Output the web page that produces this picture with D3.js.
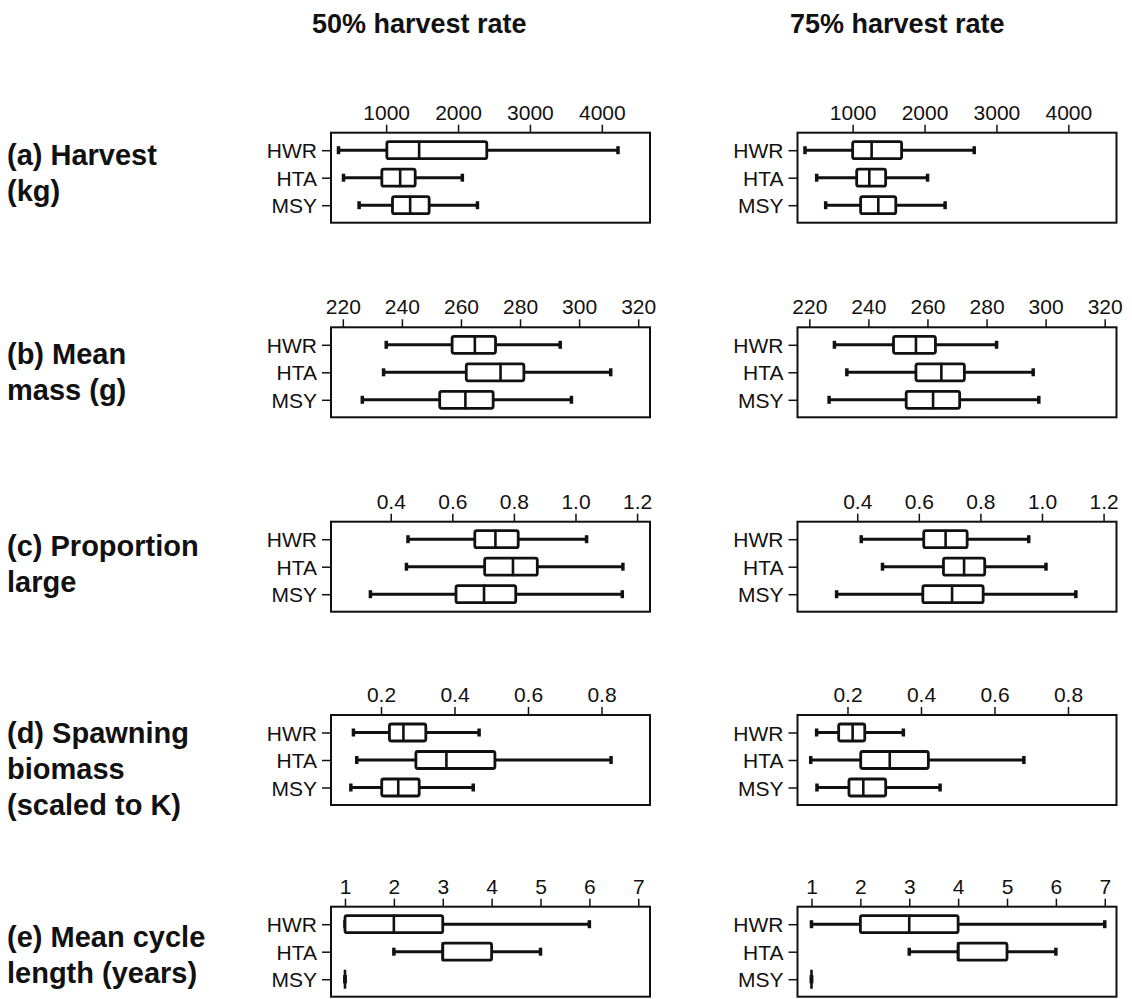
<!DOCTYPE html>
<html>
<head>
<meta charset="utf-8">
<title>Harvest rate box plots</title>
<script src="https://cdn.jsdelivr.net/npm/d3@7/dist/d3.min.js"></script>
<style>
  body { margin: 0; background: #fff; }
  svg { display: block; font-family: "Liberation Sans", Arial, sans-serif; }
  .tick text { fill: #111; }
</style>
</head>
<body>
<div id="chart"></div>
<script>
// groups and labels
var groups = ["HWR", "HTA", "MSY"];
var rateTitles = ["50% harvest rate", "75% harvest rate"];
var panelLabels = [
  ["(a) Harvest", "(kg)"],
  ["(b) Mean", "mass (g)"],
  ["(c) Proportion", "large"],
  ["(d) Spawning", "biomass", "(scaled to K)"],
  ["(e) Mean cycle", "length (years)"]
];

// axis ranges and tick labels
var harvestDomain = [233, 4670], harvestTicks = [1000, 2000, 3000, 4000];
var massDomain = [216, 324], massTicks = [220, 240, 260, 280, 300, 320];
var largeDomain = [0.206, 1.242], largeTicks = [0.4, 0.6, 0.8, 1.0, 1.2];
var biomassDomain = [0.064, 0.932], biomassTicks = [0.2, 0.4, 0.6, 0.8];
var cycleDomain = [0.714, 7.24], cycleTicks = [1, 2, 3, 4, 5, 6, 7];

// [min, q1, median, q3, max] for HWR, HTA, MSY
var harvest50 = [[337, 1010, 1459, 2400, 4225], [407, 940, 1195, 1404, 2060], [624, 1088, 1334, 1598, 2270]];
var harvest75 = [[337, 1000, 1264, 1681, 2691], [500, 1056, 1232, 1459, 2042], [625, 1111, 1357, 1600, 2286]];
var mass50 = [[234.7, 257, 264.7, 271.7, 293.6], [233.8, 261.8, 273.4, 281.3, 310.7], [226.6, 252.8, 261.5, 270.9, 297.4]];
var mass75 = [[228.5, 248.5, 256.1, 262.7, 283.4], [232.7, 256.1, 264.7, 272.5, 295.8], [226.7, 252.8, 261.9, 270.9, 297.7]];
var large50 = [[0.456, 0.673, 0.740, 0.814, 1.036], [0.451, 0.705, 0.797, 0.876, 1.154], [0.334, 0.612, 0.703, 0.806, 1.152]];
var large75 = [[0.413, 0.616, 0.687, 0.757, 0.957], [0.482, 0.680, 0.747, 0.814, 1.013], [0.333, 0.613, 0.708, 0.809, 1.110]];
var biomass50 = [[0.125, 0.223, 0.261, 0.322, 0.467], [0.134, 0.295, 0.378, 0.510, 0.826], [0.118, 0.202, 0.247, 0.304, 0.451]];
var biomass75 = [[0.116, 0.176, 0.214, 0.247, 0.352], [0.100, 0.236, 0.315, 0.420, 0.680], [0.117, 0.204, 0.243, 0.304, 0.452]];
var cycle50 = [[1, 1, 2, 3, 6], [2, 3, 3, 4, 5], [1, 1, 1, 1, 1]];
var cycle75 = [[1, 2, 3, 4, 7], [3, 4, 4, 5, 6], [1, 1, 1, 1, 1]];

var panels = [
  { domain: harvestDomain, ticks: harvestTicks, fmt: d3.format("d"), data: [harvest50, harvest75] },
  { domain: massDomain, ticks: massTicks, fmt: d3.format("d"), data: [mass50, mass75] },
  { domain: largeDomain, ticks: largeTicks, fmt: d3.format(".1f"), data: [large50, large75] },
  { domain: biomassDomain, ticks: biomassTicks, fmt: d3.format(".1f"), data: [biomass50, biomass75] },
  { domain: cycleDomain, ticks: cycleTicks, fmt: d3.format("d"), data: [cycle50, cycle75] }
];

// layout
var W = 1132, H = 999;
var panelTops = [132.7, 327.3, 521.7, 715, 906.7];
var labelY = [165, 364, 556, 743, 947];
var colLeft = [331, 797.5];
var titleX = [312, 790];
var pw = 319, ph = 90, boxH = 17, capH = 8;

var svg = d3.select("#chart").append("svg").attr("width", W).attr("height", H);

// column titles
svg.selectAll(".coltitle").data(rateTitles).enter().append("text")
  .attr("x", function (d, i) { return titleX[i]; })
  .attr("y", 33)
  .style("font-size", "27px").style("font-weight", "bold").style("fill", "#111")
  .text(function (d) { return d; });

panels.forEach(function (p, r) {
  var top = panelTops[r];

  // row label on the left
  var lab = svg.append("text")
    .attr("x", 7).attr("y", labelY[r])
    .style("font-size", "29px").style("font-weight", "bold").style("fill", "#111");
  panelLabels[r].forEach(function (line, k) {
    lab.append("tspan").attr("x", 7).attr("y", labelY[r] + k * 36).text(line);
  });

  p.data.forEach(function (stats, c) {
    var left = colLeft[c];
    var x = d3.scaleLinear().domain(p.domain).range([left, left + pw]);
    var y = d3.scalePoint().domain(groups).range([top + 17.5, top + 72.5]);

    var g = svg.append("g");

    // top axis
    var ax = g.append("g").attr("transform", "translate(0," + top + ")")
      .call(d3.axisTop(x).tickValues(p.ticks).tickSize(8).tickPadding(5).tickFormat(p.fmt));
    ax.select(".domain").remove();
    ax.selectAll("line").attr("stroke", "#111").attr("stroke-width", 1.5);
    ax.selectAll("text").style("font-size", "21px");

    // left axis
    var ay = g.append("g").attr("transform", "translate(" + left + ",0)")
      .call(d3.axisLeft(y).tickSize(9).tickPadding(5));
    ay.select(".domain").remove();
    ay.selectAll("line").attr("stroke", "#111").attr("stroke-width", 1.5);
    ay.selectAll("text").style("font-size", "21px").attr("dy", "0.36em");

    // frame
    g.append("rect")
      .attr("x", left).attr("y", top).attr("width", pw).attr("height", ph)
      .attr("fill", "none").attr("stroke", "#111").attr("stroke-width", 2);

    var box = g.selectAll(".bx").data(stats).enter().append("g");

    // whiskers
    box.append("line")
      .attr("x1", function (d) { return x(d[0]); })
      .attr("x2", function (d) { return x(d[4]); })
      .attr("y1", function (d, i) { return y(groups[i]); })
      .attr("y2", function (d, i) { return y(groups[i]); })
      .attr("stroke", "#111").attr("stroke-width", 3);
    [0, 4].forEach(function (k) {
      box.append("line")
        .attr("x1", function (d) { return x(d[k]); })
        .attr("x2", function (d) { return x(d[k]); })
        .attr("y1", function (d, i) { return y(groups[i]) - capH / 2; })
        .attr("y2", function (d, i) { return y(groups[i]) + capH / 2; })
        .attr("stroke", "#111").attr("stroke-width", 3.5);
    });

    // boxes
    box.append("rect")
      .attr("x", function (d) { return x(d[1]); })
      .attr("width", function (d) { return x(d[3]) - x(d[1]); })
      .attr("y", function (d, i) { return y(groups[i]) - boxH / 2; })
      .attr("height", boxH)
      .attr("rx", 2)
      .attr("fill", "#fff").attr("stroke", "#111").attr("stroke-width", 2.8);

    // medians
    box.append("line")
      .attr("x1", function (d) { return x(d[2]); })
      .attr("x2", function (d) { return x(d[2]); })
      .attr("y1", function (d, i) { return y(groups[i]) - boxH / 2 - 1; })
      .attr("y2", function (d, i) { return y(groups[i]) + boxH / 2 + 1; })
      .attr("stroke", "#111").attr("stroke-width", 2.6);
  });
});
</script>
</body>
</html>
